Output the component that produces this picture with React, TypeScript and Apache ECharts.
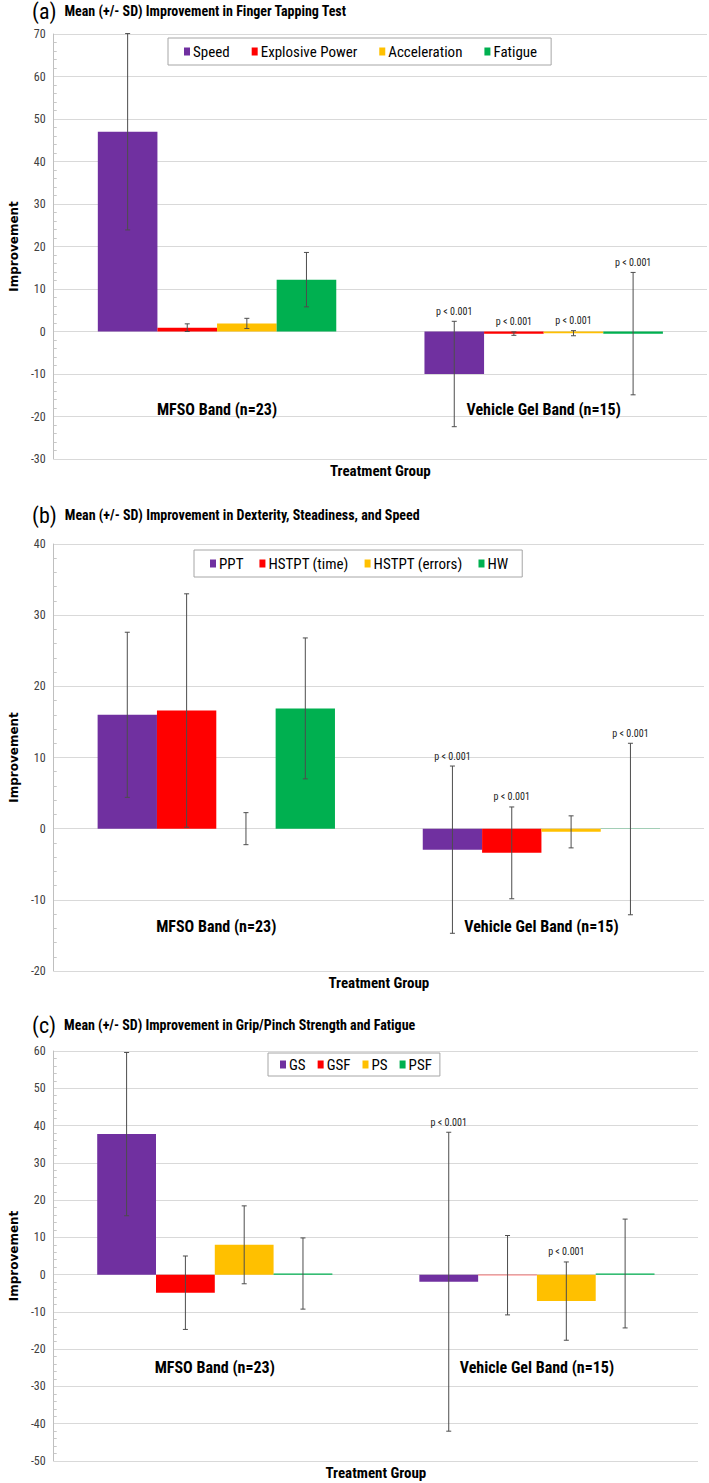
import React, { useEffect, useRef } from 'react';
import * as echarts from 'echarts';

// ---------- data ----------
const categories = ['MFSO Band (n=23)', 'Vehicle Gel Band (n=15)'];

const namesA = ['Speed', 'Explosive Power', 'Acceleration', 'Fatigue'];
const meansA = [[47.0, -10.0], [0.9, -0.5], [1.9, -0.4], [12.2, -0.5]];
const sdsA = [[23.1, 12.4], [0.9, 0.4], [1.2, 0.6], [6.4, 14.4]];
const pA = [[0, 1], [1, 1], [2, 1], [3, 1]]; // [seriesIndex, categoryIndex]

const namesB = ['PPT', 'HSTPT (time)', 'HSTPT (errors)', 'HW'];
const meansB = [[16.0, -2.95], [16.6, -3.4], [0.0, -0.45], [16.9, -0.05]];
const sdsB = [[11.6, 11.75], [16.4, 6.45], [2.25, 2.25], [9.9, 12.05]];
const pB = [[0, 1], [1, 1], [3, 1]];

const namesC = ['GS', 'GSF', 'PS', 'PSF'];
const meansC = [[37.7, -1.9], [-4.85, -0.15], [8.0, -7.1], [0.3, 0.3]];
const sdsC = [[21.9, 40.1], [9.85, 10.65], [10.45, 10.5], [9.55, 14.6]];
const pC = [[0, 1], [2, 1]];

const tags = ['(a)', '(b)', '(c)'];
const titles = [
  'Mean (+/- SD) Improvement in Finger Tapping Test',
  'Mean (+/- SD) Improvement in Dexterity, Steadiness, and Speed',
  'Mean (+/- SD) Improvement in Grip/Pinch Strength and Fatigue',
];
const yMins = [-30, -20, -50];
const yMaxs = [70, 40, 60];
const pText = 'p < 0.001';
const xName = 'Treatment Group';
const yName = 'Improvement';

const colors = ['#7030A0', '#FF0000', '#FFC000', '#00B050'];

// ---------- layout ----------
const gridTops = [34, 544, 1051];
const gridHeights = [425, 427, 410];
const gridRights = [2, 5, 11];
const titleTops = [0, 504, 1014];
const catLabelMargins = [-50, -45, -94];
const legendBoxes = [
  { left: 168, top: 38, gap: 22, pad: [6, 14, 6, 16] },
  { left: 194, top: 550, gap: 16, pad: [6, 14, 6, 16] },
  { left: 268, top: 1053, gap: 12, pad: [4, 8, 4, 12] },
];
const GAP = 0.27;
const NARROW = "'Liberation Sans Narrow', 'Arial Narrow', 'Roboto Condensed', Roboto, sans-serif";

const panels = [
  { names: namesA, means: meansA, sds: sdsA, p: pA },
  { names: namesB, means: meansB, sds: sdsB, p: pB },
  { names: namesC, means: meansC, sds: sdsC, p: pC },
];

function barX(api: any, c: number, k: number) {
  const center = api.coord([c, 0])[0];
  const catW = api.size([1, 0])[0];
  const bw = (catW * (1 - GAP)) / 4;
  return center - 2 * bw + (k + 0.5) * bw;
}

function buildOption() {
  const grid: any[] = [];
  const xAxis: any[] = [];
  const yAxis: any[] = [];
  const series: any[] = [];
  const legend: any[] = [];
  const title: any[] = [];

  panels.forEach((pn, i) => {
    grid.push({ left: 47, right: gridRights[i], top: gridTops[i], height: gridHeights[i], containLabel: false });
    title.push({
      left: 32,
      top: titleTops[i],
      padding: 0,
      text: `{tag|${tags[i]}}{main|${titles[i]}}`,
      textStyle: {
        fontWeight: 'normal',
        rich: {
          tag: { fontSize: 22, fontWeight: 'normal', fontFamily: NARROW, color: '#000', padding: [0, 8, 0, 0] },
          main: { fontSize: 14, fontWeight: 'bold', fontFamily: NARROW, color: '#000' },
        },
      },
    });
    xAxis.push({
      type: 'category',
      gridIndex: i,
      data: categories,
      axisLine: { show: false },
      axisTick: { show: false },
      axisLabel: {
        margin: catLabelMargins[i],
        verticalAlign: 'middle',
        fontFamily: NARROW,
        fontWeight: 'bold',
        fontSize: 16,
        color: '#000',
      },
      name: xName,
      nameLocation: 'middle',
      nameGap: 12,
      nameTextStyle: { fontFamily: NARROW, fontWeight: 'bold', fontSize: 15, color: '#000', verticalAlign: 'middle' },
    });
    yAxis.push({
      type: 'value',
      gridIndex: i,
      min: yMins[i],
      max: yMaxs[i],
      interval: 10,
      axisLine: { show: true, lineStyle: { color: '#BFBFBF', width: 1 } },
      axisTick: { show: false, inside: true },
      minorTick: { show: true, splitNumber: 5, length: 3, lineStyle: { color: '#C8C8C8' } },
      axisLabel: { fontFamily: NARROW, fontSize: 12, color: '#404040', margin: 8 },
      splitLine: { show: true, lineStyle: { color: '#D9D9D9', width: 1 } },
      name: yName,
      nameLocation: 'middle',
      nameRotate: 90,
      nameGap: 33,
      nameTextStyle: { fontFamily: 'DejaVu Sans', fontWeight: 'bold', fontSize: 12, color: '#000' },
    });
    legend.push({
      data: pn.names,
      left: legendBoxes[i].left,
      top: legendBoxes[i].top,
      orient: 'horizontal',
      icon: 'rect',
      itemWidth: 6,
      itemHeight: 8,
      itemGap: legendBoxes[i].gap,
      padding: legendBoxes[i].pad,
      borderColor: '#A6A6A6',
      borderWidth: 1,
      backgroundColor: '#FFFFFF',
      selectedMode: false,
      textStyle: { fontFamily: NARROW, fontSize: 15, color: '#000', padding: [0, 0, 0, -2] },
    });
    pn.names.forEach((nm, k) => {
      series.push({
        type: 'bar',
        name: nm,
        xAxisIndex: i,
        yAxisIndex: i,
        data: pn.means[k],
        itemStyle: { color: colors[k] },
        barGap: '0%',
        barCategoryGap: `${GAP * 100}%`,
      });
    });
    const errData: number[][] = [];
    pn.means.forEach((m, k) => {
      m.forEach((v, c) => {
        errData.push([c, k, v - pn.sds[k][c], v + pn.sds[k][c]]);
      });
    });
    series.push({
      type: 'custom',
      name: `err${i}`,
      xAxisIndex: i,
      yAxisIndex: i,
      z: 5,
      silent: true,
      data: errData,
      encode: { x: 0, y: [2, 3] },
      renderItem: (params: any, api: any) => {
        const c = api.value(0);
        const k = api.value(1);
        const x = barX(api, c, k);
        const yLo = api.coord([c, api.value(2)])[1];
        const yHi = api.coord([c, api.value(3)])[1];
        const st = { stroke: '#4D4D4D', lineWidth: 1 };
        return {
          type: 'group',
          children: [
            { type: 'line', shape: { x1: x, y1: yHi, x2: x, y2: yLo }, style: st },
            { type: 'line', shape: { x1: x - 2.5, y1: yHi, x2: x + 2.5, y2: yHi }, style: st },
            { type: 'line', shape: { x1: x - 2.5, y1: yLo, x2: x + 2.5, y2: yLo }, style: st },
          ],
        };
      },
    });
    const pData = pn.p.map(([k, c]) => [c, k, pn.means[k][c] + pn.sds[k][c]]);
    series.push({
      type: 'custom',
      name: `p${i}`,
      xAxisIndex: i,
      yAxisIndex: i,
      z: 6,
      silent: true,
      data: pData,
      encode: { x: 0, y: 2 },
      renderItem: (params: any, api: any) => {
        const c = api.value(0);
        const k = api.value(1);
        const x = barX(api, c, k);
        const yHi = api.coord([c, api.value(2)])[1];
        return {
          type: 'text',
          style: {
            text: pText,
            x,
            y: yHi - 10,
            align: 'center',
            verticalAlign: 'middle',
            textAlign: 'center',
            textVerticalAlign: 'middle',
            fontSize: 10,
            fontFamily: NARROW,
            fill: '#222',
          },
        };
      },
    });
  });

  return {
    animation: false,
    backgroundColor: '#FFFFFF',
    title,
    legend,
    grid,
    xAxis,
    yAxis,
    series,
  };
}

export default function App() {
  const ref = useRef<HTMLDivElement>(null);
  useEffect(() => {
    if (!ref.current) return;
    const chart = echarts.init(ref.current, undefined, { renderer: 'svg' });
    chart.setOption(buildOption() as any);
    return () => chart.dispose();
  }, []);
  return (
    <div
      ref={ref}
      style={{ position: 'absolute', left: 0, top: 0, width: 709, height: 1483, background: '#fff' }}
    />
  );
}
